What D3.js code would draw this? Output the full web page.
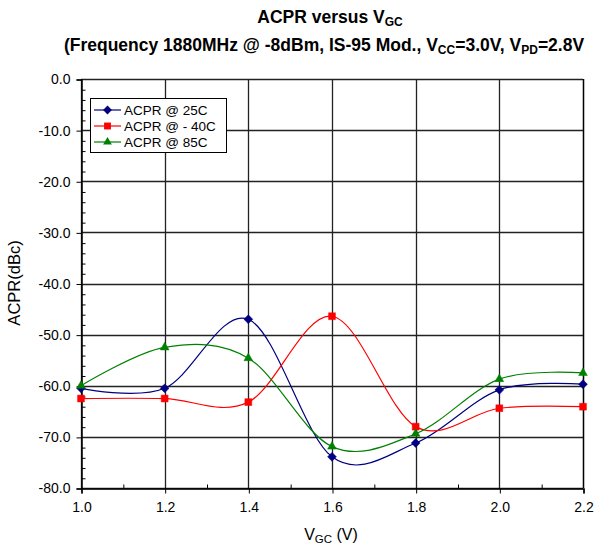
<!DOCTYPE html>
<html><head><meta charset="utf-8">
<script src="https://cdn.jsdelivr.net/npm/d3@7"></script>
<style>body{margin:0;background:#fff}svg{display:block;font-family:Arial,"Liberation Sans",sans-serif}</style>
</head><body><svg id="c" width="597" height="547"></svg>
<script>
const vgc = [1.0, 1.2, 1.4, 1.6, 1.8, 2.0, 2.2];
const acpr25 = [-60.5, -60.5, -47.0, -73.9, -71.2, -60.8, -59.7];
const acprM40 = [-62.5, -62.5, -63.2, -46.4, -68.0, -64.4, -64.1];
const acpr85 = [-60.0, -52.5, -54.6, -71.9, -69.4, -58.7, -57.5];
const seriesNames = ["ACPR @ 25C", "ACPR @ - 40C", "ACPR @ 85C"];
const xTicks = [1.0, 1.2, 1.4, 1.6, 1.8, 2.0, 2.2];
const yTicks = [0, -10, -20, -30, -40, -50, -60, -70, -80];

const svg = d3.select("#c");
const L = 81, R = 583, T = 79, B = 488;
const x = d3.scaleLinear().domain([1.0, 2.2]).range([L, R]);
const y = d3.scaleLinear().domain([-80, 0]).range([B, T]);
const fmt = v => d3.format(".1f")(v).replace("\u2212", "-");

// grid
const g = svg.append("g");
g.selectAll("line.v").data(xTicks).join("line")
  .attr("x1", d => Math.round(x(d)) + 0.5).attr("x2", d => Math.round(x(d)) + 0.5)
  .attr("y1", T).attr("y2", B).attr("stroke", "#222").attr("stroke-width", 1.3);
g.selectAll("line.h").data(yTicks).join("line")
  .attr("y1", d => Math.round(y(d)) + 0.5).attr("y2", d => Math.round(y(d)) + 0.5)
  .attr("x1", L).attr("x2", R).attr("stroke", "#222").attr("stroke-width", 1.3);

// axes
const yAxis = d3.axisLeft(y).tickValues(yTicks).tickSize(5).tickPadding(6).tickFormat(fmt);
svg.append("g").attr("transform", `translate(${L + 0.5},0.5)`).call(yAxis);
const yMinor = d3.axisRight(y).tickValues(d3.range(-78, 0, 2).filter(v => v % 10 !== 0)).tickSize(4).tickFormat("");
svg.append("g").attr("transform", `translate(${L + 0.5},0.5)`).call(yMinor).select(".domain").remove();

const xAxis = d3.axisBottom(x).tickValues(xTicks).tickSize(5).tickPadding(9).tickFormat(fmt);
svg.append("g").attr("transform", `translate(0.5,${B + 0.5})`).call(xAxis);
const xMinor = d3.axisTop(x).tickValues(d3.range(1.1, 2.2, 0.2)).tickSize(4).tickFormat("");
svg.append("g").attr("transform", `translate(0.5,${B + 0.5})`).call(xMinor).select(".domain").remove();

svg.selectAll(".tick text").attr("font-size", 14).attr("fill", "#000").attr("font-family", "Arial,'Liberation Sans',sans-serif");
svg.selectAll(".tick line").attr("stroke", "#000");
svg.selectAll(".domain").attr("stroke", "#000").attr("stroke-width", 1.5);

// right border
svg.append("line").attr("x1", R + 0.5).attr("x2", R + 0.5).attr("y1", T).attr("y2", B).attr("stroke", "#000").attr("stroke-width", 1.3);

// series
const series = [
  {name: seriesNames[0], vals: acpr25, color: "#000080", sym: d3.symbolDiamond2, size: 50},
  {name: seriesNames[1], vals: acprM40, color: "#ff0000", sym: d3.symbolSquare2, size: 60},
  {name: seriesNames[2], vals: acpr85, color: "#008000", sym: d3.symbolTriangle2, size: 55}
];
const line = d3.line().x((d, i) => x(vgc[i])).y(d => y(d)).curve(d3.curveCardinal.tension(0));
series.forEach(s => {
  svg.append("path").attr("d", line(s.vals)).attr("fill", "none").attr("stroke", s.color).attr("stroke-width", 1.2);
});
series.forEach(s => {
  const sym = d3.symbol().type(s.sym).size(s.size);
  svg.append("g").selectAll("path").data(s.vals).join("path")
    .attr("transform", (d, i) => `translate(${x(vgc[i])},${y(d)})`)
    .attr("d", sym()).attr("fill", s.color).attr("stroke", s.color).attr("stroke-width", 0.5);
});

// legend
const lg = svg.append("g");
lg.append("rect").attr("x", 90.5).attr("y", 98.5).attr("width", 136).attr("height", 54)
  .attr("fill", "#fff").attr("stroke", "#000").attr("stroke-width", 1);
series.forEach((s, i) => {
  const cy = 110 + i * 16;
  lg.append("line").attr("x1", 94).attr("x2", 121).attr("y1", cy).attr("y2", cy).attr("stroke", s.color).attr("stroke-width", 1.2);
  lg.append("path").attr("transform", `translate(107.5,${cy})`).attr("d", d3.symbol().type(s.sym).size(s.size)()).attr("fill", s.color);
  lg.append("text").attr("x", 124).attr("y", cy + 5).attr("font-size", 13.5).text(s.name);
});

// titles
const t1 = svg.append("text").attr("x", 330).attr("y", 23).attr("text-anchor", "middle").attr("font-size", 17.5).attr("font-weight", "bold");
t1.append("tspan").text("ACPR versus V");
t1.append("tspan").attr("font-size", 12).attr("dy", 3).text("GC");
const t2 = svg.append("text").attr("x", 324).attr("y", 51).attr("text-anchor", "middle").attr("font-size", 17.5).attr("font-weight", "bold");
t2.append("tspan").text("(Frequency 1880MHz @ -8dBm, IS-95 Mod., V");
t2.append("tspan").attr("font-size", 12).attr("dy", 3).text("CC");
t2.append("tspan").attr("dy", -3).text("=3.0V, V");
t2.append("tspan").attr("font-size", 12).attr("dy", 3).text("PD");
t2.append("tspan").attr("dy", -3).text("=2.8V");

const xt = svg.append("text").attr("x", 331).attr("y", 540).attr("text-anchor", "middle").attr("font-size", 16);
xt.append("tspan").text("V");
xt.append("tspan").attr("font-size", 11.5).attr("dy", 3).text("GC");
xt.append("tspan").attr("dy", -3).text(" (V)");

svg.append("text").attr("transform", "translate(20,283) rotate(-90)").attr("text-anchor", "middle").attr("font-size", 16.5).text("ACPR(dBc)");
</script></body></html>
